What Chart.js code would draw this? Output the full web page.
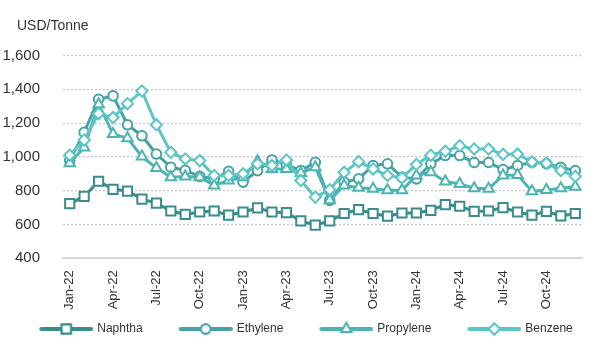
<!DOCTYPE html>
<html>
<head>
<meta charset="utf-8">
<script src="https://cdn.jsdelivr.net/npm/chart.js@4"></script>
<style>
  html, body { margin: 0; padding: 0; background: #ffffff; overflow: hidden; width: 597px; height: 354px; }
  #wrap { position: relative; width: 603px; height: 354px; }
  canvas { display: block; }
</style>
</head>
<body>
<div id="wrap"><canvas id="c" width="603" height="354"></canvas></div>
<script>
// ---- Data ----
const months = [
  'Jan-22','Feb-22','Mar-22','Apr-22','May-22','Jun-22','Jul-22','Aug-22','Sep-22','Oct-22','Nov-22','Dec-22',
  'Jan-23','Feb-23','Mar-23','Apr-23','May-23','Jun-23','Jul-23','Aug-23','Sep-23','Oct-23','Nov-23','Dec-23',
  'Jan-24','Feb-24','Mar-24','Apr-24','May-24','Jun-24','Jul-24','Aug-24','Sep-24','Oct-24','Nov-24','Dec-24'
];
const naphtha = [723, 766, 856, 808, 798, 750, 727, 680, 660, 674, 680, 655,
                 674, 698, 674, 670, 621, 596, 621, 665, 688, 665, 649, 668,
                 668, 684, 718, 708, 678, 680, 700, 674, 655, 678, 651, 665];
const ethylene = [978, 1145, 1341, 1361, 1190, 1125, 1017, 939, 920, 885, 870, 915,
                  851, 919, 982, 955, 919, 968, 743, 851, 870, 949, 959, 880,
                  870, 959, 1008, 1008, 967, 967, 925, 949, 968, 960, 939, 919];
const propylene = [962, 1056, 1312, 1135, 1111, 1002, 935, 880, 884, 880, 831, 860,
                   880, 975, 929, 929, 905, 939, 743, 831, 818, 812, 802, 802,
                   890, 909, 855, 840, 815, 812, 890, 893, 797, 804, 815, 823];
const benzene = [1010, 1100, 1256, 1233, 1315, 1390, 1190, 1027, 988, 978, 890, 890,
                 900, 959, 949, 982, 860, 762, 806, 909, 972, 929, 890, 876,
                 955, 1010, 1033, 1066, 1047, 1047, 1015, 1017, 970, 962, 919, 885];
const seriesNames = ['Naphtha', 'Ethylene', 'Propylene', 'Benzene'];
const yTicks = [400, 600, 800, 1000, 1200, 1400, 1600];
const unitLabel = 'USD/Tonne';

// ---- Styles ----
const colors = ['#3a8d8b', '#45a3a3', '#4db4b4', '#5cc5c5'];
const styles = ['rect', 'circle', 'triangle', 'rectRot'];
const radii = [6.5, 4.8, 6, 5.6];
const FONT = "'Liberation Sans', Arial, sans-serif";

function legendImage(color, style, radius) {
  const cv = document.createElement('canvas');
  cv.width = 82; cv.height = 16;
  const g = cv.getContext('2d');
  g.strokeStyle = color;
  g.lineWidth = 4;
  g.lineCap = 'round';
  g.beginPath(); g.moveTo(30, 8); g.lineTo(80, 8); g.stroke();
  g.fillStyle = '#ffffff';
  g.lineWidth = 2;
  Chart.helpers.drawPoint(g, { pointStyle: style, rotation: 0, borderWidth: 2, radius: radius }, 55, 8);
  g.fill(); g.stroke();
  return cv;
}

const datasetsData = [naphtha, ethylene, propylene, benzene];
const datasets = datasetsData.map((d, i) => ({
  label: seriesNames[i],
  data: d,
  borderColor: colors[i],
  backgroundColor: colors[i],
  borderWidth: 3,
  pointStyle: styles[i],
  pointRadius: radii[i],
  pointHoverRadius: radii[i],
  pointBackgroundColor: '#ffffff',
  pointBorderColor: colors[i],
  pointBorderWidth: 2,
  tension: 0,
  order: 3 - i
}));

const boxShift = {
  id: 'boxShift',
  afterLayout(chart) {
    if (chart.legend) { chart.legend.left -= 8.5; chart.legend.right -= 8.5; }
    if (chart.titleBlock) { chart.titleBlock.left += 17; chart.titleBlock.right += 17; }
  }
};

new Chart(document.getElementById('c'), {
  type: 'line',
  data: { labels: months, datasets: datasets },
  plugins: [boxShift],
  options: {
    responsive: false,
    animation: false,
    events: [],
    layout: { padding: { left: 0, right: 0, top: 0, bottom: 9 } },
    plugins: {
      tooltip: { enabled: false },
      title: {
        display: true,
        text: unitLabel,
        align: 'start',
        color: '#333333',
        font: { family: FONT, size: 14, weight: 'normal' },
        padding: { top: 17.7, bottom: 21 }
      },
      legend: {
        display: true,
        position: 'bottom',
        labels: {
          usePointStyle: true,
          pointStyleWidth: 78,
          padding: 10,
          color: '#333333',
          font: { family: FONT, size: 12 },
          generateLabels: (chart) => seriesNames.map((n, i) => ({
            text: n,
            datasetIndex: i,
            pointStyle: legendImage(colors[i], styles[i], radii[i]),
            fillStyle: colors[i],
            strokeStyle: colors[i],
            lineWidth: 0,
            fontColor: '#333333',
            hidden: false
          }))
        }
      }
    },
    scales: {
      x: {
        type: 'category',
        offset: true,
        grid: { display: false, drawTicks: false },
        border: { display: true, color: '#d9d9d9', width: 2 },
        ticks: {
          autoSkip: false,
          minRotation: 90,
          maxRotation: 90,
          padding: 12,
          color: '#333333',
          font: { family: FONT, size: 13 },
          callback: function (v, i) { return i % 3 === 0 ? this.getLabelForValue(v) : ''; }
        },
        afterFit: (s) => { s.height = 54.7; }
      },
      y: {
        min: 400,
        max: 1600,
        afterBuildTicks: (s) => { s.ticks = yTicks.map(v => ({ value: v })); },
        grid: {
          drawTicks: false,
          lineWidth: 1.2,
          color: (ctx) => (ctx.tick && ctx.tick.value === 400) ? 'rgba(0,0,0,0)' : '#c8c8c8'
        },
        border: { display: false, dash: [2, 2] },
        ticks: {
          padding: 22.5,
          color: '#333333',
          font: { family: FONT, size: 15 },
          callback: (v) => v.toLocaleString('en-US')
        },
        afterFit: (s) => { s.width = 62.5; }
      }
    }
  }
});
</script>
</body>
</html>
